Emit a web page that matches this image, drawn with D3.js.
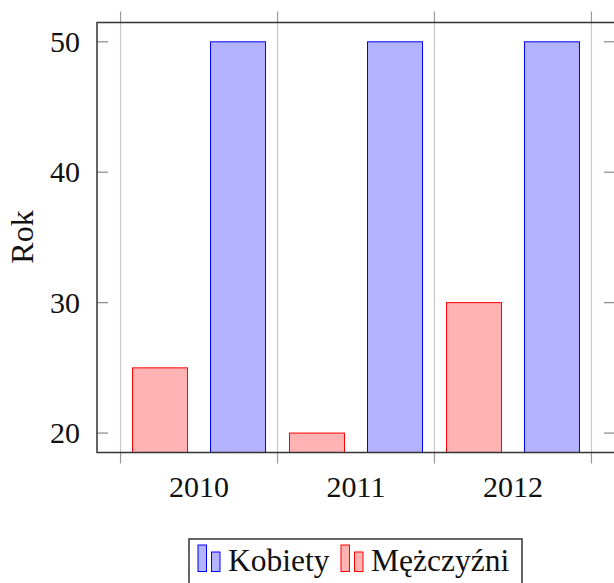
<!DOCTYPE html>
<html>
<head>
<meta charset="utf-8">
<script src="https://cdn.jsdelivr.net/npm/d3@7"></script>
<style>
	body { margin: 0; background: #fff; overflow: hidden; }
	text { font-family: "Liberation Serif", "DejaVu Serif", serif; fill: #111; }
	.tick-label { font-size: 30px; }
	.axis-title { font-size: 32px; }
	.legend-text { font-size: 31.5px; }
</style>
</head>
<body>
<svg id="chart" width="614" height="583"></svg>
<script>

//Data
var years = [2010, 2011, 2012];
var kobiety = [50, 50, 50];
var mezczyzni = [25, 20, 30];
var yTicks = [20, 30, 40, 50];

var svg = d3.select("#chart");

var plotLeft = 97, plotRight = 615, plotTop = 22.5, plotBottom = 452.5;

var xScale = d3.scaleLinear().domain([2009.35, 2012.65]).range([plotLeft, plotRight]);
var yScale = d3.scaleLinear().domain([18.51, 51.48]).range([plotBottom, plotTop]);

var barWidth = 55,
	barOffset = 39;

/////////////////////// Grid //////////////////////////

var gridPos = years.concat([2013]).map(function(d) { return d - 0.5; });

svg.selectAll(".grid-line")
	.data(gridPos)
	.enter().append("line")
	.attr("class", "grid-line")
	.attr("x1", function(d) { return xScale(d); })
	.attr("x2", function(d) { return xScale(d); })
	.attr("y1", plotTop)
	.attr("y2", plotBottom)
	.style("stroke", "#c8c8c8")
	.style("stroke-width", 1.2);

//outer tick marks, top and bottom
[[plotTop - 11, plotTop], [plotBottom, plotBottom + 11]].forEach(function(seg) {
	svg.selectAll(null)
		.data(gridPos)
		.enter().append("line")
		.attr("x1", function(d) { return xScale(d); })
		.attr("x2", function(d) { return xScale(d); })
		.attr("y1", seg[0])
		.attr("y2", seg[1])
		.style("stroke", "#9a9a9a")
		.style("stroke-width", 1.2);
});

/////////////////////// Bars //////////////////////////

svg.selectAll(".bar-m")
	.data(years)
	.enter().append("rect")
	.attr("class", "bar-m")
	.attr("x", function(d) { return xScale(d) - barOffset - barWidth/2; })
	.attr("y", function(d,i) { return yScale(mezczyzni[i]); })
	.attr("width", barWidth)
	.attr("height", function(d,i) { return plotBottom - yScale(mezczyzni[i]); })
	.style("fill", "#ffb3b3")
	.style("stroke", "#ff0000")
	.style("stroke-width", 1);

svg.selectAll(".bar-k")
	.data(years)
	.enter().append("rect")
	.attr("class", "bar-k")
	.attr("x", function(d) { return xScale(d) + barOffset - barWidth/2; })
	.attr("y", function(d,i) { return yScale(kobiety[i]); })
	.attr("width", barWidth)
	.attr("height", function(d,i) { return plotBottom - yScale(kobiety[i]); })
	.style("fill", "#b3b3ff")
	.style("stroke", "#0000ff")
	.style("stroke-width", 1);

/////////////////////// Axes //////////////////////////

//y ticks inside, both sides
svg.selectAll(".ytick-l")
	.data(yTicks)
	.enter().append("line")
	.attr("x1", plotLeft)
	.attr("x2", plotLeft + 11)
	.attr("y1", function(d) { return yScale(d); })
	.attr("y2", function(d) { return yScale(d); })
	.style("stroke", "#8a8a8a")
	.style("stroke-width", 1.2);

svg.selectAll(".ytick-r")
	.data(yTicks)
	.enter().append("line")
	.attr("x1", plotRight - 11)
	.attr("x2", plotRight)
	.attr("y1", function(d) { return yScale(d); })
	.attr("y2", function(d) { return yScale(d); })
	.style("stroke", "#8a8a8a")
	.style("stroke-width", 1.2);

//axis box
svg.append("rect")
	.attr("x", plotLeft)
	.attr("y", plotTop)
	.attr("width", plotRight - plotLeft)
	.attr("height", plotBottom - plotTop)
	.style("fill", "none")
	.style("stroke", "#333")
	.style("stroke-width", 1.5);

//y tick labels
svg.selectAll(".ylabel")
	.data(yTicks)
	.enter().append("text")
	.attr("class", "tick-label")
	.attr("x", 80)
	.attr("y", function(d) { return yScale(d); })
	.attr("dy", "0.33em")
	.style("text-anchor", "end")
	.text(function(d) { return d; });

//x tick labels
svg.selectAll(".xlabel")
	.data(years)
	.enter().append("text")
	.attr("class", "tick-label")
	.attr("x", function(d) { return xScale(d); })
	.attr("y", 497)
	.style("text-anchor", "middle")
	.text(function(d) { return d; });

//y axis title
svg.append("text")
	.attr("class", "axis-title")
	.attr("transform", "translate(33," + 237 + ") rotate(-90)")
	.style("text-anchor", "middle")
	.text("Rok");

/////////////////////// Legend //////////////////////////

var legendWrapper = svg.append("g").attr("class", "legendWrapper");

legendWrapper.append("rect")
	.attr("x", 189)
	.attr("y", 539)
	.attr("width", 333)
	.attr("height", 60)
	.style("fill", "#fff")
	.style("stroke", "#333")
	.style("stroke-width", 1.5);

var legendItems = [
	{name: "Kobiety", fill: "#b3b3ff", stroke: "#0000ff", x: 198},
	{name: "Mężczyźni", fill: "#ffb3b3", stroke: "#ff0000", x: 341}
];

legendItems.forEach(function(item) {
	var g = legendWrapper.append("g").attr("transform", "translate(" + item.x + "," + 0 + ")");
	g.append("rect")
		.attr("x", 0).attr("y", 545).attr("width", 8.5).attr("height", 26.5)
		.style("fill", item.fill).style("stroke", item.stroke).style("stroke-width", 1);
	g.append("rect")
		.attr("x", 13.5).attr("y", 552).attr("width", 8.5).attr("height", 19.5)
		.style("fill", item.fill).style("stroke", item.stroke).style("stroke-width", 1);
	g.append("text")
		.attr("class", "legend-text")
		.attr("x", 30)
		.attr("y", 571)
		.text(item.name);
});

</script>
</body>
</html>
